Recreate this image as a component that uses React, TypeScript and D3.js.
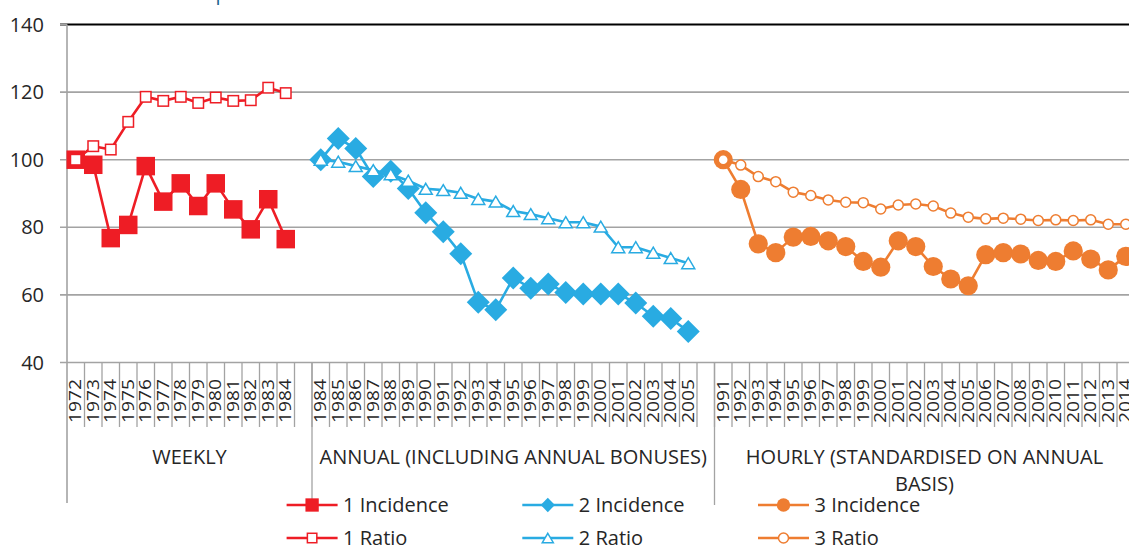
import React from "react";
import * as d3 from "d3";

const weeklyYears = ["1972","1973","1974","1975","1976","1977","1978","1979","1980","1981","1982","1983","1984"];
const annualYears = ["1984","1985","1986","1987","1988","1989","1990","1991","1992","1993","1994","1995","1996","1997","1998","1999","2000","2001","2002","2003","2004","2005"];
const hourlyYears = ["1991","1992","1993","1994","1995","1996","1997","1998","1999","2000","2001","2002","2003","2004","2005","2006","2007","2008","2009","2010","2011","2012","2013","2014"];

const groupLabels = ["WEEKLY", "ANNUAL (INCLUDING ANNUAL BONUSES)", "HOURLY (STANDARDISED ON ANNUAL|BASIS)"];
const yTicks = [40, 60, 80, 100, 120, 140];

const weeklyIncidence = [100, 98.5, 76.8, 80.7, 98.1, 87.6, 93.0, 86.3, 93.0, 85.3, 79.4, 88.3, 76.5];
const weeklyRatio = [100, 104.0, 103.0, 111.2, 118.6, 117.4, 118.6, 116.8, 118.4, 117.4, 117.6, 121.3, 119.7];
const annualIncidence = [100, 106.3, 103.3, 95.0, 96.6, 91.5, 84.3, 78.7, 72.2, 57.8, 55.6, 65.0, 62.0, 63.2, 60.7, 60.3, 60.3, 60.3, 57.6, 53.7, 53.0, 49.2];
const annualRatio = [100, 99.4, 98.1, 96.9, 95.7, 93.8, 91.4, 91.0, 90.2, 88.4, 87.6, 84.8, 83.9, 82.7, 81.5, 81.5, 80.2, 74.1, 74.1, 72.5, 70.9, 69.4];
const hourlyIncidence = [100, 91.2, 75.1, 72.5, 77.1, 77.3, 76.0, 74.3, 69.9, 68.2, 76.0, 74.3, 68.4, 64.7, 62.7, 71.9, 72.5, 72.1, 70.2, 69.9, 73.0, 70.6, 67.4, 71.4];
const hourlyRatio = [100, 98.4, 95.0, 93.5, 90.4, 89.4, 88.1, 87.4, 87.3, 85.4, 86.6, 86.9, 86.3, 84.2, 83.0, 82.5, 82.7, 82.4, 82.0, 82.2, 82.0, 82.2, 80.9, 80.9];

const RED = "#EE1D25";
const BLUE = "#29ABE2";
const ORANGE = "#EE7D31";
const TEXT = "#262626";
const GRID = "#A3A3A3";
const FONT = "'Open Sans', sans-serif";

type Cat = { key: string; label: string; group: number };

const cats: Cat[] = [
  ...weeklyYears.map((y) => ({ key: "w" + y, label: y, group: 0 })),
  { key: "gap0", label: "", group: 0 },
  ...annualYears.map((y) => ({ key: "a" + y, label: y, group: 1 })),
  { key: "gap1", label: "", group: 1 },
  ...hourlyYears.map((y) => ({ key: "h" + y, label: y, group: 2 })),
];

type Series = {
  name: string;
  color: string;
  marker: string;
  prefix: string;
  years: string[];
  values: number[];
};

const series: Series[] = [
  { name: "1 Incidence", color: RED, marker: "squareFilled", prefix: "w", years: weeklyYears, values: weeklyIncidence },
  { name: "1 Ratio", color: RED, marker: "squareOpen", prefix: "w", years: weeklyYears, values: weeklyRatio },
  { name: "2 Incidence", color: BLUE, marker: "diamond", prefix: "a", years: annualYears, values: annualIncidence },
  { name: "2 Ratio", color: BLUE, marker: "triangle", prefix: "a", years: annualYears, values: annualRatio },
  { name: "3 Incidence", color: ORANGE, marker: "circleFilled", prefix: "h", years: hourlyYears, values: hourlyIncidence },
  { name: "3 Ratio", color: ORANGE, marker: "circleOpen", prefix: "h", years: hourlyYears, values: hourlyRatio },
];

function Marker({ type, x, y, color, small }: { type: string; x: number; y: number; color: string; small?: boolean }) {
  const k = small ? 0.72 : 1;
  if (type === "squareFilled") {
    const s = 18.5 * k;
    return <rect x={x - s / 2} y={y - s / 2} width={s} height={s} fill={color} />;
  }
  if (type === "squareOpen") {
    const s = 10.5 * (small ? 0.9 : 1);
    return <rect x={x - s / 2} y={y - s / 2} width={s} height={s} fill="#fff" stroke={color} strokeWidth={1.5} />;
  }
  if (type === "diamond") {
    const h = 11.5 * (small ? 0.62 : 1);
    return <path d={`M${x},${y - h}L${x + h},${y}L${x},${y + h}L${x - h},${y}Z`} fill={color} />;
  }
  if (type === "triangle") {
    const w = 13 * (small ? 0.85 : 1);
    const hh = 11 * (small ? 0.85 : 1);
    return (
      <path
        d={`M${x},${y - hh / 2}L${x + w / 2},${y + hh / 2}L${x - w / 2},${y + hh / 2}Z`}
        fill="#fff"
        stroke={color}
        strokeWidth={1.5}
        strokeLinejoin="miter"
      />
    );
  }
  if (type === "circleFilled") {
    const r = 9.6 * (small ? 0.7 : 1);
    return <circle cx={x} cy={y} r={r} fill={color} />;
  }
  const r = 5 * (small ? 1 : 1);
  return <circle cx={x} cy={y} r={r} fill="#fff" stroke={color} strokeWidth={1.5} />;
}

export default function App() {
  const W = 1129;
  const H = 548;
  const left = 67;
  const band = 17.5;
  const top = 24.5;
  const bottom = 362.5;

  const x = d3
    .scaleBand<string>()
    .domain(cats.map((c) => c.key))
    .range([left, left + cats.length * band])
    .padding(0);
  const y = d3.scaleLinear().domain([40, 140]).range([bottom, top]);
  const right = left + cats.length * band;

  const line = d3
    .line<[number, number]>()
    .x((d) => d[0])
    .y((d) => d[1]);

  // group boundaries
  const groupBounds: { start: number; end: number; label: string }[] = [0, 1, 2].map((g) => {
    const gc = cats.filter((c) => c.group === g);
    const start = x(gc[0].key)!;
    const end = x(gc[gc.length - 1].key)! + band;
    return { start, end, label: groupLabels[g] };
  });

  const legendCols = [286.6, 522.3, 758];
  const legendRows = [505, 538];

  return (
    <svg
      width={W}
      height={H}
      style={{ position: "absolute", left: 0, top: 0, background: "#fff" }}
      fontFamily={FONT}
    >
      <rect width={W} height={H} fill="#fff" />
      {/* cut-off title descender */}
      <text x={215.5} y={0} fontSize={20} fill="#1F6391" fontFamily={FONT}>
        p
      </text>

      {/* gridlines */}
      {yTicks.map((t) => (
        <g key={t}>
          <line
            x1={left - 7}
            x2={right}
            y1={y(t)}
            y2={y(t)}
            stroke={t === 140 ? "#000" : GRID}
            strokeWidth={t === 140 ? 2 : 1.6}
          />
          {t === 140 && <line x1={left - 7} x2={left} y1={y(t)} y2={y(t)} stroke={GRID} strokeWidth={1.6} />}
          <text x={44} y={y(t) + 7} textAnchor="end" fontSize={20} fill={TEXT}>
            {t}
          </text>
        </g>
      ))}

      {/* y axis line */}
      <line x1={left} x2={left} y1={top} y2={503} stroke={GRID} strokeWidth={1.6} />

      {/* category ticks */}
      {cats.map((c) => (
        <line
          key={"t" + c.key}
          x1={x(c.key)! + band}
          x2={x(c.key)! + band}
          y1={bottom}
          y2={427}
          stroke={GRID}
          strokeWidth={1.3}
        />
      ))}
      {/* group dividers */}
      {groupBounds.map((g, i) => (
        <line key={"gd" + i} x1={g.end} x2={g.end} y1={bottom} y2={505} stroke={GRID} strokeWidth={1.3} />
      ))}

      {/* category labels */}
      {cats.map((c) =>
        c.label ? (
          <text
            key={"l" + c.key}
            transform={`translate(${x(c.key)! + band / 2 - 0.5},${423}) rotate(-90)`}
            dy="0.36em"
            fontSize={16.5}
            textLength={44}
            lengthAdjust="spacingAndGlyphs"
            fill={TEXT}
          >
            {c.label}
          </text>
        ) : null
      )}

      {/* group labels */}
      {groupBounds.map((g, i) => {
        const parts = g.label.split("|");
        const cx = (g.start + g.end) / 2;
        return (
          <text key={"gl" + i} x={cx} y={464} textAnchor="middle" fontSize={20} fill={TEXT}>
            {parts.map((p, j) => (
              <tspan key={j} x={cx} dy={j === 0 ? 0 : 27}>
                {p}
              </tspan>
            ))}
          </text>
        );
      })}

      {/* series */}
      {series.map((s) => {
        const pts: [number, number][] = s.years.map((yr, i) => [x(s.prefix + yr)! + band / 2, y(s.values[i])]);
        return (
          <g key={s.name}>
            <path d={line(pts) || ""} fill="none" stroke={s.color} strokeWidth={2.6} strokeLinejoin="round" />
            {pts.map((p, i) => (
              <Marker key={i} type={s.marker} x={p[0]} y={p[1]} color={s.color} />
            ))}
          </g>
        );
      })}

      {/* legend */}
      {series.map((s, i) => {
        const col = Math.floor(i / 2);
        const row = i % 2;
        const lx = legendCols[col];
        const ly = legendRows[row];
        return (
          <g key={"lg" + s.name}>
            <line x1={lx} x2={lx + 51} y1={ly} y2={ly} stroke={s.color} strokeWidth={2.6} />
            <Marker type={s.marker} x={lx + 25.5} y={ly} color={s.color} small />
            <text x={lx + 56.5} y={ly + 7} fontSize={20} fill={TEXT}>
              {s.name}
            </text>
          </g>
        );
      })}
    </svg>
  );
}
